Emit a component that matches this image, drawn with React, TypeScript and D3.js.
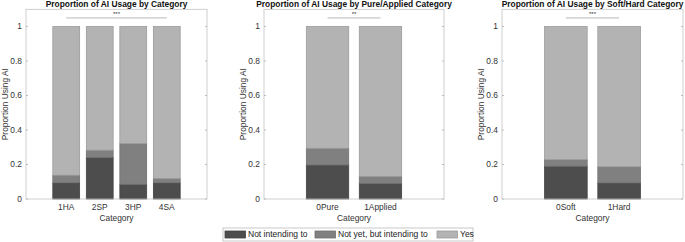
import * as d3 from 'd3';
import { useEffect, useRef } from 'react';

// proportions per group: not intending / not yet / yes
const catLabels = ['1HA', '2SP', '3HP', '4SA'];
const catNotIntending = [0.094, 0.24, 0.085, 0.094];
const catNotYet = [0.044, 0.043, 0.236, 0.025];
const catYes = [0.862, 0.717, 0.679, 0.881];

const pureLabels = ['0Pure', '1Applied'];
const pureNotIntending = [0.197, 0.09];
const pureNotYet = [0.097, 0.04];
const pureYes = [0.706, 0.87];

const softLabels = ['0Soft', '1Hard'];
const softNotIntending = [0.19, 0.093];
const softNotYet = [0.038, 0.094];
const softYes = [0.772, 0.813];

const seriesNames = ['Not intending to', 'Not yet, but intending to', 'Yes'];
const seriesColors = ['#4d4d4d', '#808080', '#b3b3b3'];
const yTicks = [0, 0.2, 0.4, 0.6, 0.8, 1];

const panels = [
  { title: 'Proportion of AI Usage by Category', labels: catLabels, series: [catNotIntending, catNotYet, catYes], stars: '***', x0: 26, x1: 207 },
  { title: 'Proportion of AI Usage by Pure/Applied Category', labels: pureLabels, series: [pureNotIntending, pureNotYet, pureYes], stars: '**', x0: 264, x1: 444 },
  { title: 'Proportion of AI Usage by Soft/Hard Category', labels: softLabels, series: [softNotIntending, softNotYet, softYes], stars: '***', x0: 502, x1: 683 },
];

const font = 'Liberation Sans, Arial, sans-serif';

const App = () => {
  const svgRef = useRef(null);

  useEffect(() => {
    const width = 685;
    const height = 242;
    const svg = d3.select(svgRef.current).attr('width', width).attr('height', height);
    const g = svg.append('g');

    const top = 9.3;
    const bottom = 199;
    const y = d3.scaleLinear().domain([0, 1.1]).range([bottom, top]);

    panels.forEach((p) => {
      const n = p.labels.length;
      const x = d3.scaleLinear().domain([-0.2, n + 1.2]).range([p.x0, p.x1]);
      const bw = x(0.8) - x(0);
      const pg = g.append('g');

      // stacked bars
      const rows = p.labels.map((lab, i) => {
        const r: any = { label: lab, idx: i + 1 };
        seriesNames.forEach((s, k) => { r[s] = p.series[k][i]; });
        return r;
      });
      const stacked = d3.stack().keys(seriesNames)(rows);
      stacked.forEach((layer, k) => {
        pg.selectAll(null)
          .data(layer)
          .enter()
          .append('rect')
          .attr('x', (d: any) => x(d.data.idx) - bw / 2)
          .attr('width', bw)
          .attr('y', (d) => y(d[1]))
          .attr('height', (d) => y(d[0]) - y(d[1]))
          .attr('fill', seriesColors[k])
          .attr('stroke', d3.color(seriesColors[k]).darker(0.4).toString())
          .attr('stroke-width', 0.8);
      });

      // axes box
      pg.append('rect')
        .attr('x', p.x0).attr('y', top)
        .attr('width', p.x1 - p.x0).attr('height', bottom - top)
        .attr('fill', 'none').attr('stroke', '#c4c4c4').attr('stroke-width', 0.8);

      // y ticks
      yTicks.forEach((t) => {
        pg.append('line').attr('x1', p.x0).attr('x2', p.x0 + 2).attr('y1', y(t)).attr('y2', y(t)).attr('stroke', '#bdbdbd');
        pg.append('line').attr('x1', p.x1 - 2).attr('x2', p.x1).attr('y1', y(t)).attr('y2', y(t)).attr('stroke', '#bdbdbd');
        pg.append('text')
          .attr('x', p.x0 - 4).attr('y', y(t)).attr('dy', '0.35em')
          .attr('text-anchor', 'end').attr('font-size', 8.4).attr('font-family', font).attr('fill', '#333')
          .text(d3.format('~g')(t));
      });

      // x tick labels
      p.labels.forEach((lab, i) => {
        pg.append('text')
          .attr('x', x(i + 1)).attr('y', 207).attr('dy', '0.35em')
          .attr('text-anchor', 'middle').attr('font-size', 8.4).attr('font-family', font).attr('fill', '#333')
          .text(lab);
      });

      pg.append('text')
        .attr('x', (p.x0 + p.x1) / 2).attr('y', 218.5).attr('dy', '0.35em')
        .attr('text-anchor', 'middle').attr('font-size', 8.4).attr('font-family', font).attr('fill', '#333')
        .text('Category');

      pg.append('text')
        .attr('transform', `translate(${p.x0 - 21},${(top + bottom) / 2}) rotate(-90)`)
        .attr('dy', '0.35em')
        .attr('text-anchor', 'middle').attr('font-size', 8.4).attr('font-family', font).attr('fill', '#333')
        .text('Proportion Using AI');

      pg.append('text')
        .attr('x', (p.x0 + p.x1) / 2).attr('y', 7.2)
        .attr('text-anchor', 'middle').attr('font-size', 8.4).attr('font-weight', 'bold').attr('font-family', font).attr('fill', '#111')
        .text(p.title);

      // significance bar
      pg.append('line')
        .attr('x1', x(1)).attr('x2', x(n)).attr('y1', y(1.05)).attr('y2', y(1.05))
        .attr('stroke', '#b8b8b8').attr('stroke-width', 1);
      pg.append('text')
        .attr('x', (x(1) + x(n)) / 2).attr('y', y(1.05) - 1.5)
        .attr('text-anchor', 'middle').attr('font-size', 6).attr('font-family', font).attr('fill', '#333')
        .text(p.stars);
    });

    // legend
    const lg = g.append('g');
    lg.append('rect').attr('x', 223).attr('y', 228).attr('width', 250).attr('height', 13)
      .attr('fill', 'white').attr('stroke', '#bbb').attr('stroke-width', 0.8);
    const swatchX = [225, 315, 437];
    seriesNames.forEach((s, k) => {
      lg.append('rect').attr('x', swatchX[k]).attr('y', 231).attr('width', 20.5).attr('height', 7)
        .attr('fill', seriesColors[k]).attr('stroke', d3.color(seriesColors[k]).darker(0.4).toString()).attr('stroke-width', 0.8);
      lg.append('text').attr('x', swatchX[k] + 23).attr('y', 234.5).attr('dy', '0.35em')
        .attr('font-size', 8.5).attr('font-family', font).attr('fill', '#222')
        .text(s);
    });

    return () => {
      svg.selectAll('*').remove();
    };
  }, []);

  return <svg ref={svgRef} style={{ position: 'absolute', left: 0, top: 0 }} />;
};

export default App;
